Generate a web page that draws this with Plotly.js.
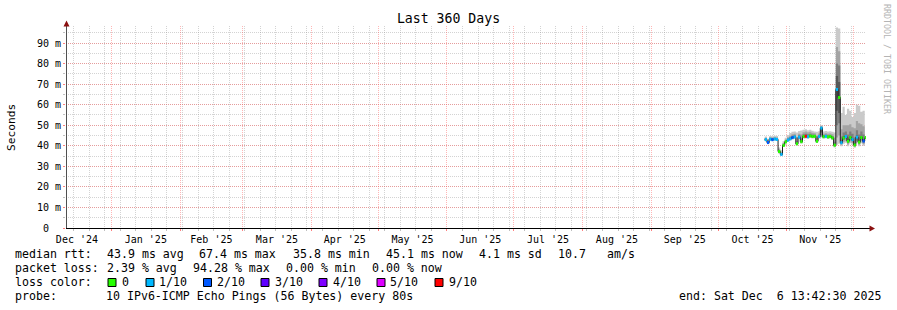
<!DOCTYPE html>
<html><head><meta charset="utf-8">
<script src="https://cdn.plot.ly/plotly-3.0.1.min.js"></script>
<style>html,body{margin:0;padding:0;background:#fff}#chart{width:897px;height:310px}</style>
</head><body><div id="chart"></div>
<script>
// ---------------- DATA (values in ms) ----------------
const days = ['2025-10-22','2025-10-23','2025-10-24','2025-10-25','2025-10-26','2025-10-27','2025-10-28','2025-10-29','2025-10-30','2025-10-31',
  '2025-11-01','2025-11-02','2025-11-03','2025-11-04','2025-11-05','2025-11-06','2025-11-07','2025-11-08','2025-11-09','2025-11-10',
  '2025-11-11','2025-11-12','2025-11-13','2025-11-14','2025-11-15','2025-11-16','2025-11-17','2025-11-18','2025-11-19','2025-11-20',
  '2025-11-21','2025-11-22','2025-11-23','2025-11-24','2025-11-25','2025-11-26','2025-11-27','2025-11-28','2025-11-29','2025-11-30',
  '2025-12-01','2025-12-02','2025-12-03','2025-12-04','2025-12-05','2025-12-06'];
const median = [43.0,41.6,43.2,43.0,43.3,43.1,37.2,35.8,40.2,41.9, 42.8,43.4,44.0,44.3,41.0,44.2,42.0,44.5,44.6,44.4,
  44.8,44.5,44.6,42.2,44.5,48.6,44.4,44.6,44.3,44.5, 43.8,40.3,67.4,63.5,41.5,43.8,44.5,42.2,44.0,43.0, 40.4,44.2,41.8,44.0,42.3,44.0];
// loss colour bucket index (0 = 0, 1 = 1/10, 2 = 2/10, ... 6 = 9/10)
const lossLevel = [1,2,1,2,1,1,0,1,0,0, 1,1,2,1,0,1,0,0,6,1, 0,0,0,0,1,1,0,1,0,0, 0,0,1,0,1,0,1,0,0,1, 0,1,0,0,2,0];
// sorted ping values (smoke)
const ping1  = [42.2,40.8,42.4,42.2,42.5,42.3,36.3,35.0,39.4,41.1, 42.0,42.6,43.1,43.4,40.1,43.3,41.1,43.5,43.6,43.4,
  43.8,43.5,43.7,41.3,43.6,44.0,43.5,43.7,43.4,43.6, 42.9,39.2,40.5,41.0,39.8,41.0,41.5,39.8,41.2,40.5, 39.0,41.2,39.8,41.2,40.0,41.2];
const ping2  = [42.5,41.1,42.7,42.5,42.8,42.6,36.6,35.3,39.7,41.4, 42.3,42.9,43.4,43.7,40.4,43.6,41.4,43.9,44.0,43.8,
  44.2,43.9,44.0,41.6,43.9,44.4,43.8,44.0,43.7,43.9, 43.2,39.6,44.0,45.0,40.5,42.0,42.5,40.6,42.2,41.4, 39.6,42.2,40.5,42.2,40.8,42.2];
const ping3  = [42.7,41.3,42.9,42.7,43.0,42.8,36.9,35.5,39.9,41.6, 42.5,43.1,43.7,44.0,40.7,43.9,41.7,44.2,44.3,44.1,
  44.5,44.2,44.3,41.9,44.2,45.0,44.1,44.3,44.0,44.2, 43.5,39.9,50.0,51.0,41.0,42.8,43.5,41.3,43.0,42.2, 40.0,43.2,41.1,43.0,41.5,43.0];
const ping4  = [42.9,41.5,43.1,42.9,43.2,43.0,37.1,35.7,40.1,41.8, 42.7,43.3,43.9,44.2,40.9,44.1,41.9,44.4,44.5,44.3,
  44.7,44.4,44.5,42.1,44.4,46.5,44.3,44.5,44.2,44.4, 43.7,40.2,57.0,56.0,41.3,43.4,44.1,41.9,43.6,42.7, 40.2,43.8,41.5,43.6,42.0,43.6];
const ping7  = [43.2,41.8,43.4,43.2,43.5,43.3,37.4,36.0,40.4,42.1, 43.0,43.7,44.3,44.6,41.4,44.5,42.4,44.9,45.0,44.8,
  45.2,44.9,44.9,42.6,44.8,48.9,44.7,44.9,44.6,44.8, 44.2,40.8,74.0,71.0,42.5,44.6,45.3,43.2,44.8,43.8, 41.3,45.0,42.8,44.8,43.2,44.8];
const ping8  = [43.5,42.2,43.7,43.5,43.8,43.6,37.8,36.4,40.8,42.5, 43.5,44.2,44.9,45.1,42.2,45.1,43.6,45.6,45.8,45.6,
  45.9,45.5,45.4,43.5,45.3,49.2,45.2,45.4,45.1,45.3, 44.8,42.0,80.0,79.0,44.5,46.5,47.0,45.5,47.0,45.8, 44.0,47.5,45.5,47.0,45.5,47.5];
const ping9  = [43.9,42.7,44.1,44.0,44.2,44.0,38.3,36.9,41.3,43.0, 44.1,44.9,45.6,45.8,43.8,45.9,45.5,46.6,46.9,46.6,
  46.8,46.3,46.1,45.0,46.0,49.5,45.9,46.1,45.8,46.0, 45.6,44.0,88.0,86.0,48.0,50.0,50.0,50.0,50.5,49.0, 48.5,52.0,51.0,50.5,49.5,51.5];
const ping10 = [44.5,43.4,44.8,44.6,44.9,44.7,39.2,37.8,42.2,43.9, 45.3,46.2,46.8,47.0,46.5,47.2,47.4,47.8,48.0,47.6,
  47.8,47.3,47.0,46.8,47.1,50.0,46.9,47.2,46.9,47.1, 46.8,46.5,97.6,97.0,56.0,59.0,55.0,58.0,57.0,54.0, 56.0,60.0,59.5,56.5,57.0,58.5];

const lossColors = ['#26ff00','#00b8ff','#0059ff','#5e00ff','#7e00ff','#dd00ff','#ff0000'];
const lossLabels = ['0','1/10','2/10','3/10','4/10','5/10','9/10'];
const yTickVals = [0,10,20,30,40,50,60,70,80,90];
const yTickText = ['0\u00a0\u00a0','10 m','20 m','30 m','40 m','50 m','60 m','70 m','80 m','90 m'];
const xStart = '2024-12-11 13:42:30', xEnd = '2025-12-06 13:42:30';

const legendLine1 = [['median rtt:',16],['43.9 ms avg',107.3],['67.4 ms max',200],['35.8 ms min',293.3],['45.1 ms now',386.7],['4.1 ms sd',479.3],['10.7',558.3],['am/s',607.3]];
const legendLine2 = [['packet loss:',16],['2.39 % avg',107.3],['94.28 % max',193.5],['0.00 % min',286.5],['0.00 % now',372.7]];
const legendLine4 = [['probe:',16],['10 IPv6-ICMP Echo Pings (56 Bytes) every 80s',106.5]];

// ---------------- LAYOUT HELPERS ----------------
const FONT = 'DejaVu Sans Mono';
const L = 66, T = 26, PW = 800, PH = 202;
const px2x = p => (p - L) / PW;
const px2y = p => (T + PH - p) / PH;

const traces = [];
const smokeLayers = [[ping1, ping10, '#cacaca'], [ping2, ping9, '#a4a4a4'], [ping3, ping8, '#7e7e7e'], [ping4, ping7, '#585858']];
smokeLayers.forEach(([lo, hi, col]) => {
  traces.push({type:'scatter', mode:'lines', x:days, y:lo, line:{width:0, shape:'hv'}, hoverinfo:'skip', showlegend:false});
  traces.push({type:'scatter', mode:'lines', x:days, y:hi, line:{width:0, shape:'hv'}, fill:'tonexty', fillcolor:col, hoverinfo:'skip', showlegend:false});
});
traces.push({type:'scatter', mode:'lines', x:days, y:median, line:{width:1, color:'#202020', shape:'hv'}, showlegend:false});
traces.push({type:'scatter', mode:'markers', x:days, y:median, xperiod:86400000, xperiodalignment:'middle',
  marker:{symbol:'line-ew', size:1.6, line:{width:3, color:lossLevel.map(l => lossColors[l])}}, showlegend:false});

const ann = [];
const txt = (s, xp, yp, extra) => ann.push(Object.assign({text:s, xref:'paper', yref:'paper', x:px2x(xp), y:px2y(yp),
  xanchor:'left', yanchor:'middle', showarrow:false, borderpad:0, borderwidth:0,
  font:{family:FONT, size:11.6, color:'#000'}}, extra || {}));
legendLine1.forEach(([s, x]) => txt(s, x - 0.6, 254));
legendLine2.forEach(([s, x]) => txt(s, x - 0.6, 268));
txt('loss color:', 15.4, 282);
lossLabels.forEach((s, i) => txt(s, [122.7,160,217.7,275.3,333.3,390.7,450][i] - 0.6, 282));
legendLine4.forEach(([s, x]) => txt(s, x - 0.6, 296));
txt('end: Sat Dec  6 13:42:30 2025', 880.7, 296, {xanchor:'right'});
ann.push({text:'Seconds', xref:'paper', yref:'paper', x:px2x(11), y:0.5, textangle:-90, showarrow:false,
  xanchor:'center', yanchor:'middle', font:{family:FONT, size:11.2, color:'#000'}});
ann.push({text:'RRDTOOL / TOBI OETIKER', xref:'paper', yref:'paper', x:px2x(887), y:px2y(59), textangle:90, showarrow:false,
  xanchor:'center', yanchor:'middle', font:{family:FONT, size:8.3, color:'#b4b4b4'}});

const shapes = [];
const boxLeft = [108,146,203.5,261,319,377,435];
lossColors.forEach((c, i) => shapes.push({type:'rect', xref:'paper', yref:'paper', x0:px2x(boxLeft[i]), x1:px2x(boxLeft[i]+8),
  y0:px2y(286.5), y1:px2y(278.5), fillcolor:c, line:{color:'#000', width:1}}));
// axes with arrows
shapes.push({type:'line', xref:'paper', yref:'paper', x0:px2x(66.5), x1:px2x(66.5), y0:px2y(228.5), y1:px2y(24), line:{color:'#505050', width:1}});
shapes.push({type:'line', xref:'paper', yref:'paper', x0:px2x(66), x1:px2x(870), y0:px2y(228.5), y1:px2y(228.5), line:{color:'#000', width:1}});
const tri = pts => 'M' + pts.map(([a,b]) => px2x(a) + ',' + px2y(b)).join('L') + 'Z';
shapes.push({type:'path', xref:'paper', yref:'paper', path:tri([[66.5,20.5],[63.5,26.5],[69.5,26.5]]), fillcolor:'#8b1010', line:{width:0}});
shapes.push({type:'path', xref:'paper', yref:'paper', path:tri([[875,228.5],[869.5,225.5],[869.5,231.5]]), fillcolor:'#8b1010', line:{width:0}});

const minorGrid = 'rgba(150,150,150,0.42)', majorGrid = 'rgba(255,80,80,0.42)';
const layout = {
  width:897, height:310, margin:{l:L, r:897-L-PW, t:T, b:310-T-PH}, paper_bgcolor:'#fff', plot_bgcolor:'#fff',
  font:{family:FONT, color:'#000'}, hovermode:false, showlegend:false,
  title:{text:'Last 360 Days', font:{family:FONT, size:13.2, color:'#000'}, x:0.5, xanchor:'center', xref:'container', yref:'container', y:1-18.4/310, yanchor:'middle'},
  xaxis:{type:'date', range:[xStart, xEnd], tickmode:'linear', dtick:'M1', tick0:'2024-12-01', tickformat:"%b '%y", ticklabelmode:'period',
    showgrid:true, gridcolor:majorGrid, griddash:'1px,1px', gridwidth:1, zeroline:false, showline:false,
    ticks:'outside', ticklen:2, tickcolor:'#ff8080', tickfont:{family:FONT, size:10, color:'#000'},
    minor:{dtick:604800000, tick0:'2024-12-15', showgrid:true, gridcolor:minorGrid, griddash:'1px,1px', ticks:'outside', ticklen:2, tickcolor:'#c0c0c0'}},
  yaxis:{range:[0, 98.27], tickmode:'array', tickvals:yTickVals, ticktext:yTickText, showgrid:true, gridcolor:majorGrid, griddash:'1px,1px',
    zeroline:false, showline:false, ticks:'outside', ticklen:2, tickcolor:'#ff8080', tickfont:{family:FONT, size:10, color:'#000'},
    minor:{tickmode:'linear', tick0:0, dtick:5, showgrid:true, gridcolor:minorGrid, griddash:'1px,1px', ticks:'outside', ticklen:2, tickcolor:'#c0c0c0'}},
  annotations:ann, shapes:shapes
};
Plotly.newPlot('chart', traces, layout, {staticPlot:true, displayModeBar:false});
</script></body></html>
